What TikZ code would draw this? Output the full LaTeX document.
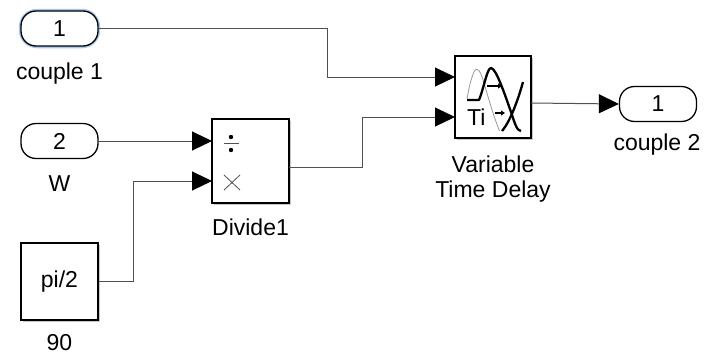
\documentclass[tikz,border=0pt]{standalone}
\usepackage{fontspec}
\setmainfont{Liberation Sans}
\usetikzlibrary{arrows.meta,calc}
\definecolor{wirec}{HTML}{505050}
\definecolor{glowc}{HTML}{A9C8EE}
\definecolor{shadowc}{HTML}{C8C8C8}
\tikzset{
  lbl/.style={font=\fontsize{23}{27}\selectfont, anchor=base, inner sep=0pt},
  pill/.style={draw=black, line width=1.3pt, rounded corners=15pt, minimum width=77pt, minimum height=35pt, inner sep=0pt, font=\fontsize{23}{27}\selectfont, fill=white},
  blockbox/.style={draw=black, line width=1.5pt, fill=white, inner sep=0pt},
  wire/.style={draw=wirec, line width=1pt},
  wirearrow/.style={wire, -{Triangle[length=20pt,width=19pt,color=black]}},
  thinicon/.style={draw=wirec, line width=0.8pt},
}
\begin{document}
\begin{tikzpicture}[x=1pt,y=-1pt]
\path[use as bounding box, fill=white] (0,0) rectangle (704,359);

% inport 1 with selection glow
\draw[glowc, line width=4.5pt, rounded corners=16pt] (21,11) rectangle (98,46);
\node[pill] (in1) at (59.5,28.5) {1};
\node[lbl] (l1) at (59.5,79) {couple 1};

% inport 2
\node[pill] (in2) at (59.5,141) {2};
\node[lbl] (l2) at (59.5,191) {W};

% constant
\fill[shadowc] (23,245) rectangle (100,322);
\node[blockbox, minimum width=77pt, minimum height=77pt, font=\fontsize{23}{27}\selectfont] (cst) at (59.5,281.5) {pi/2};
\node[lbl] (l3) at (59.5,350) {90};

% divide
\fill[shadowc] (214,121) rectangle (291,205);
\node[blockbox, minimum width=77pt, minimum height=84pt] (div) at (250.5,161) {};
\node[lbl] (l4) at (250.5,235) {Divide1};
\coordinate (divin1) at (212,141);
\coordinate (divin2) at (212,181);
\coordinate (divout) at (289,167);
% divide icon
\fill[black] (231,137) circle (2.2pt);
\fill[black] (231,150) circle (2.2pt);
\draw[thinicon] (223.5,143.5) -- (238.5,143.5);
\draw[thinicon] (224,175) -- (240,190);
\draw[thinicon] (240,175) -- (224,190);

% variable time delay
\fill[shadowc] (457,58) rectangle (533,140);
\node[blockbox, minimum width=76pt, minimum height=82pt] (dl) at (493,97) {};
\coordinate (dlin1) at (455,77);
\coordinate (dlin2) at (455,117);
\coordinate (dlout) at (531,103);
\node[lbl] (l5) at (493,172) {Variable};
\node[lbl] (l6) at (493,197) {Time Delay};
% delay icon
\draw[draw=gray!80, line width=0.8pt] plot[smooth, tension=0.6] coordinates {(467,99) (470,84) (474,72) (477,69.5) (480.5,73) (484,83) (489,100) (494,116) (499.5,131)};
\draw[black, line width=2.3pt, line join=round] (467,100) -- (479,100) .. controls (484,88) and (487,68) .. (491,68) .. controls (496,68) and (505,95) .. (511,112) .. controls (515,124) and (517,131) .. (521,131);
\draw[black, line width=2.3pt] (523,82) .. controls (518,100) and (510,122) .. (502,131);
\draw[black, line width=1.2pt, -{Triangle[length=4pt,width=5pt]}] (487,86) -- (502,86);
\draw[black, line width=1.2pt, -{Triangle[length=4pt,width=5pt]}] (495,113) -- (505,113);
\node[anchor=base west, inner sep=0pt, font=\fontsize{23}{26}\selectfont] (ti) at (467,125.5) {Ti};

% outport
\node[pill] (out) at (658,104) {1};
\node[lbl] (l7) at (657,150) {couple 2};

% wires
\draw[wirearrow] (in1.east) -- (327,28.5) |- (dlin1);
\draw[wirearrow] (in2.east) -- (divin1);
\draw[wirearrow] (cst.east) -- (133,281.5) |- (divin2);
\draw[wirearrow] (divout) -- (362,167) |- (dlin2);
\draw[wirearrow] (dlout) -- (out.west);
\end{tikzpicture}
\end{document}
